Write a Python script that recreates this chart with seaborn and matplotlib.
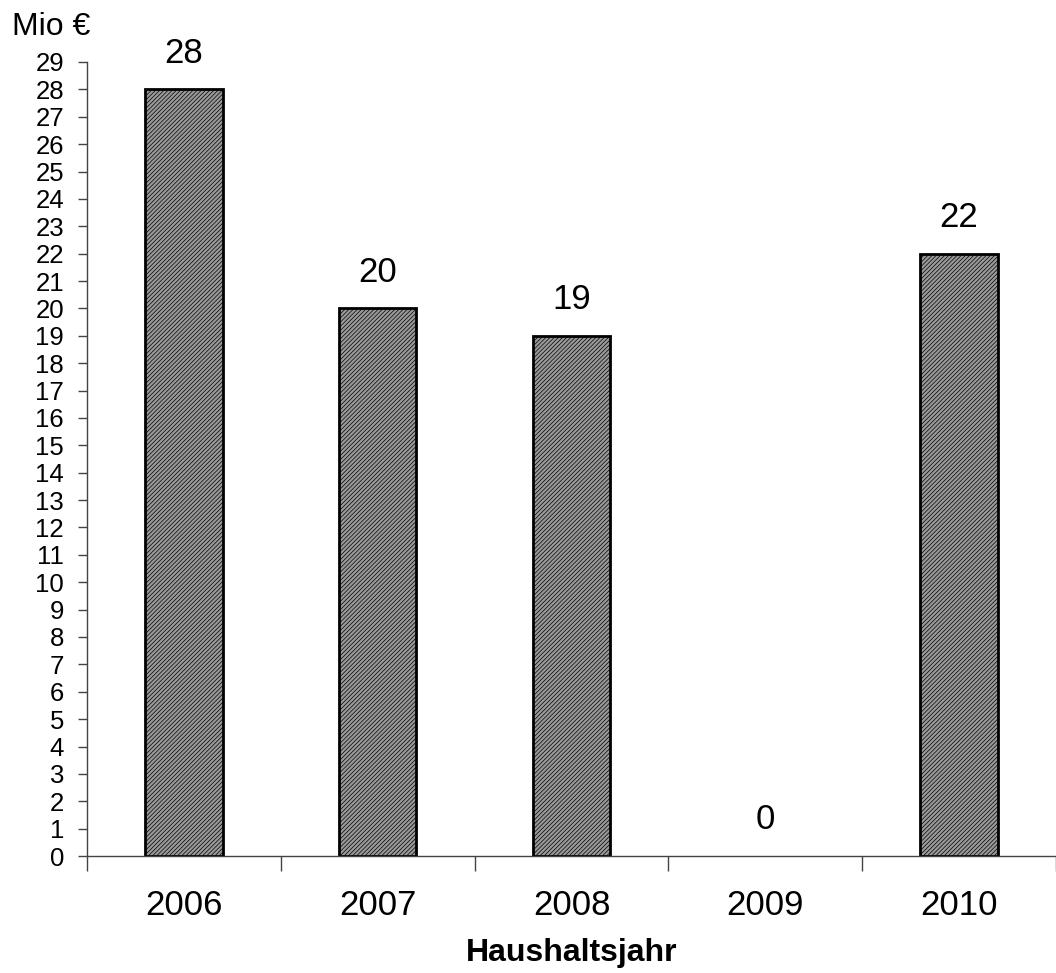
import matplotlib
matplotlib.use("Agg")
import matplotlib.pyplot as plt
import seaborn as sns
import pandas as pd

years = ["2006", "2007", "2008", "2009", "2010"]
values = [28, 20, 19, 0, 22]
y_ticks = list(range(0, 30))

sns.set_theme(style="white")
plt.rcParams["font.family"] = ["Liberation Sans", "DejaVu Sans"]
plt.rcParams["text.color"] = "black"
plt.rcParams["xtick.color"] = "black"
plt.rcParams["ytick.color"] = "black"
plt.rcParams["axes.labelcolor"] = "black"
plt.rcParams["hatch.color"] = "#6e6e6e"
plt.rcParams["hatch.linewidth"] = 0.5

df = pd.DataFrame({"Jahr": years, "Wert": values})

fig = plt.figure(figsize=(10.56, 9.73), dpi=100)
ax = fig.add_axes([0.0824, 0.1202, 0.9176, 0.8161])

sns.barplot(data=df, x="Jahr", y="Wert", ax=ax, width=0.4,
            color="#9a9a9a", saturation=1, edgecolor="black", linewidth=2)
for patch in ax.patches:
    patch.set_hatch("////////")
    # empty years get no visible bar outline
    if patch.get_height() == 0:
        patch.set_visible(False)

ax.set_xlim(-0.5, len(years) - 0.5)
ax.set_ylim(0, 29)
ax.set_yticks(y_ticks)
ax.set_yticklabels([str(t) for t in y_ticks], fontsize=18.5)

# category labels sit between boundary ticks
ax.set_xticks(range(len(years)))
ax.set_xticklabels(years, fontsize=25)
ax.tick_params(axis="x", which="major", length=0, pad=24)
ax.set_xticks([i - 0.5 for i in range(len(years) + 1)], minor=True)
ax.tick_params(axis="x", which="minor", length=11, width=1, color="#444444", direction="out", bottom=True)
ax.tick_params(axis="y", length=6.5, width=1, color="#444444", direction="out", left=True, pad=10)

ax.set_xlabel("Haushaltsjahr", fontsize=23, fontweight="bold", labelpad=11)
ax.set_ylabel("")

for s in ["top", "right"]:
    ax.spines[s].set_visible(False)
for s in ["left", "bottom"]:
    ax.spines[s].set_color("#444444")
    ax.spines[s].set_linewidth(1)

for i, v in enumerate(values):
    ax.annotate(str(v), (i, v), xytext=(0, 26), textcoords="offset points",
                ha="center", va="center", fontsize=25)

fig.text(0.0115, 0.972, "Mio €", fontsize=23, ha="left", va="center")

fig.savefig("out.png", dpi=100)
